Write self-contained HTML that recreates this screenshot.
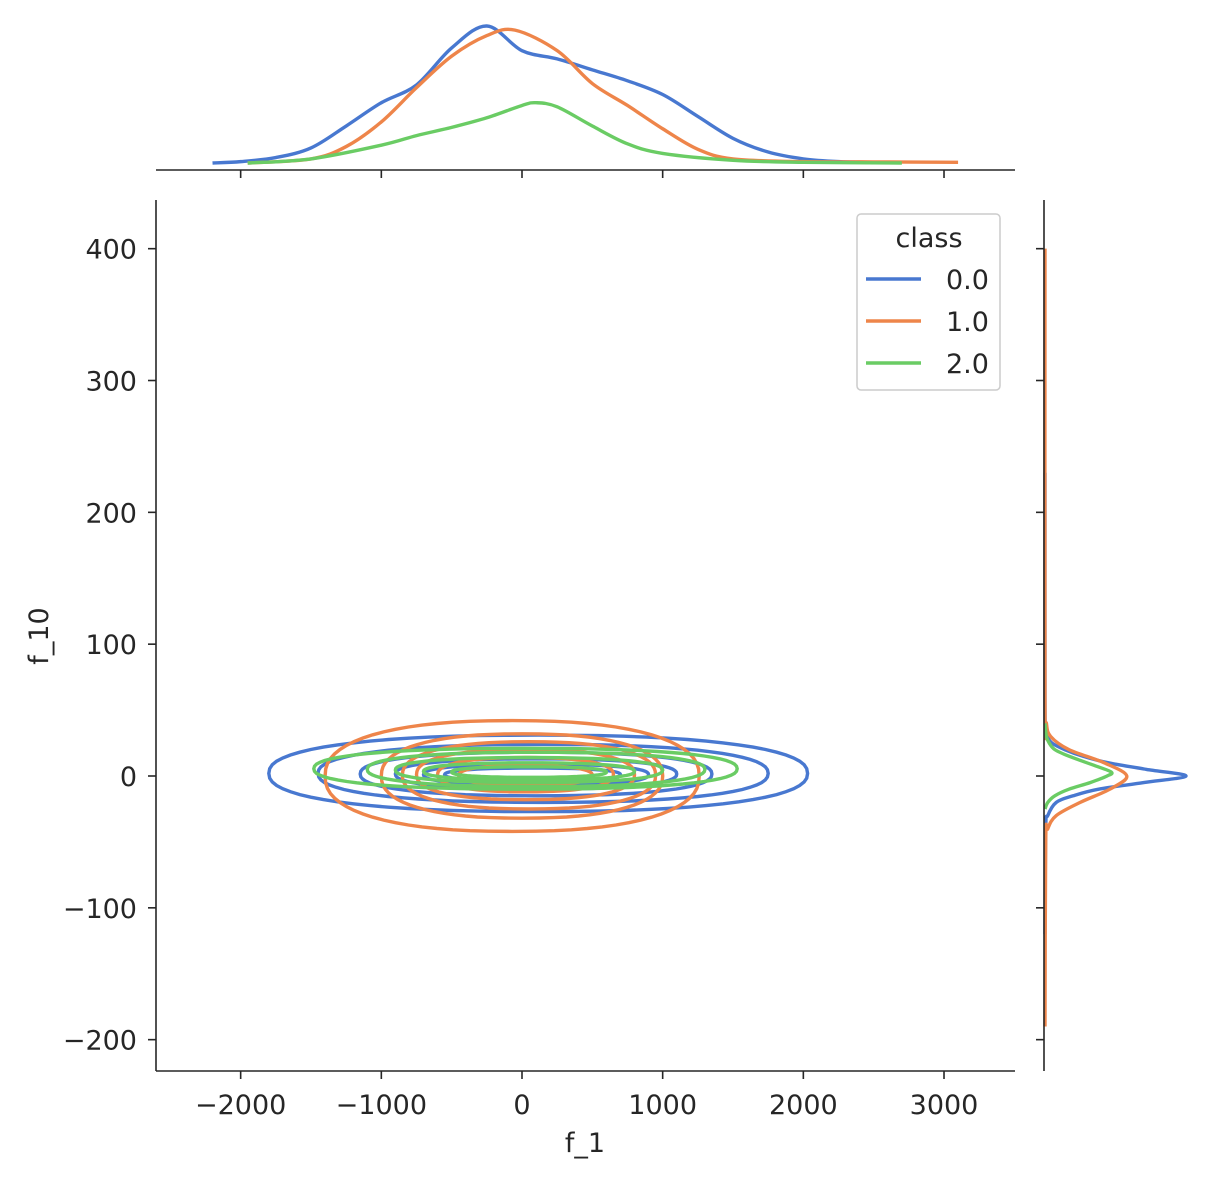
<!DOCTYPE html>
<html><head><meta charset="utf-8">
<style>
body{margin:0;background:#fff;}
svg{display:block;font-family:"DejaVu Sans","Liberation Sans",sans-serif;}
</style></head>
<body>
<svg id="chart" width="1212" height="1180" viewBox="0 0 1212 1180"></svg>
<script>
// ---- data ----
const classes = ["0.0","1.0","2.0"];
const colors = ["#4878d0","#ee854a","#6acc64"];
const xTicks = [-2000,-1000,0,1000,2000,3000];
const yTicks = [-200,-100,0,100,200,300,400];
// contour bounds per class: [xmin,xmax,ymin,ymax]
const contours0 = [[-1800,2030,-27,31],[-1450,1750,-20,24],[-1150,1350,-15,18],[-900,1100,-10,13],[-700,900,-7,9],[-550,700,-4,6]];
const contours1 = [[-1400,1260,-42,42],[-1000,1000,-32,32],[-850,950,-25,26],[-750,800,-18,20],[-600,650,-12,14],[-450,500,-7,8]];
const contours2 = [[-1480,1530,-10,21],[-1100,1300,-8,18],[-900,1000,-5,14],[-700,800,-3,10],[-500,600,-1,7]];
// top marginal densities (relative)
const topX0 = [-2200,-2000,-1750,-1500,-1250,-1000,-750,-500,-250,0,250,500,750,1000,1250,1500,1750,2000,2250,2500,2700];
const topD0 = [0,0.01,0.04,0.11,0.27,0.44,0.57,0.84,1.0,0.82,0.76,0.68,0.6,0.5,0.34,0.18,0.08,0.03,0.01,0.005,0.003];
const topX1 = [-1950,-1500,-1250,-1000,-750,-500,-250,-50,250,500,750,1000,1250,1500,2000,2500,3100];
const topD1 = [0,0.03,0.12,0.3,0.55,0.78,0.93,0.97,0.82,0.58,0.42,0.25,0.1,0.03,0.01,0.008,0.005];
const topX2 = [-1950,-1500,-1000,-750,-500,-250,0,100,250,500,750,1000,1500,2000,2700];
const topD2 = [0,0.03,0.13,0.2,0.26,0.33,0.42,0.44,0.41,0.27,0.14,0.07,0.02,0.005,0];
// right marginal densities (relative)
const rY0 = [-120,-40,-30,-20,-15,-10,-5,0,5,10,15,20,25,30,40,60,230];
const rD0 = [0,0.005,0.02,0.08,0.2,0.38,0.7,1.0,0.72,0.45,0.27,0.14,0.05,0.02,0.005,0,0];
const rY1 = [-190,-50,-40,-30,-20,-10,0,10,20,30,40,60,400];
const rD1 = [0,0.005,0.02,0.08,0.25,0.46,0.58,0.42,0.17,0.04,0.01,0,0];
const rY2 = [-25,-20,-15,-10,-5,0,3,8,15,20,25,30,40];
const rD2 = [0,0.02,0.07,0.17,0.32,0.44,0.47,0.35,0.17,0.07,0.03,0.01,0];

// ---- scales ----
const X = v => 522 + v*0.14067;
const Y = v => 776 - v*1.3183;
const NS="http://www.w3.org/2000/svg";
const svg=document.getElementById('chart');
function mk(tag,attrs,parent){const e=document.createElementNS(NS,tag);for(const k in attrs)e.setAttribute(k,attrs[k]);(parent||svg).appendChild(e);return e;}
function smooth(pts){let d=`M${pts[0][0]},${pts[0][1]}`;for(let i=0;i<pts.length-1;i++){const p0=pts[i-1]||pts[i],p1=pts[i],p2=pts[i+1],p3=pts[i+2]||p2;d+=` C${p1[0]+(p2[0]-p0[0])/6},${p1[1]+(p2[1]-p0[1])/6} ${p2[0]-(p3[0]-p1[0])/6},${p2[1]-(p3[1]-p1[1])/6} ${p2[0]},${p2[1]}`;}return d;}

// contours
const allC=[contours0,contours1,contours2];
allC.forEach((cs,ci)=>{cs.forEach((c,k)=>{
  const cx=(X(c[0])+X(c[1]))/2, cy=(Y(c[2])+Y(c[3]))/2, rx=(X(c[1])-X(c[0]))/2, ry=(Y(c[2])-Y(c[3]))/2;
  let d='';const n=72;
  for(let i=0;i<=n;i++){const t=i/n*2*Math.PI;const ct=Math.cos(t),st=Math.sin(t);
    const px=cx+rx*Math.sign(ct)*Math.pow(Math.abs(ct),0.85), py=cy+ry*Math.sign(st)*Math.pow(Math.abs(st),0.85);
    d+=(i?'L':'M')+px.toFixed(1)+','+py.toFixed(1);}
  const p=mk('path',{d:d+'Z',fill:'none',stroke:colors[ci],'stroke-width':3.4});
  
  
});});

// top marginal
const topXs=[topX0,topX1,topX2],topDs=[topD0,topD1,topD2];
topXs.forEach((xs,ci)=>{const pts=xs.map((x,i)=>[X(x),163-topDs[ci][i]*137]);
  const p=mk('path',{d:smooth(pts),fill:'none',stroke:colors[ci],'stroke-width':3.4});
  
  });
// right marginal
const rYs=[rY0,rY1,rY2],rDs=[rD0,rD1,rD2];
rYs.forEach((ys,ci)=>{const pts=ys.map((y,i)=>[1045+rDs[ci][i]*141,Y(y)]);
  const p=mk('path',{d:smooth(pts),fill:'none',stroke:colors[ci],'stroke-width':3.4});
  
  });

// axes
const ax={stroke:'#262626','stroke-width':1.6};
let a=mk('line',Object.assign({x1:156,y1:200,x2:156,y2:1071},ax));
a=mk('line',Object.assign({x1:156,y1:1071,x2:1015,y2:1071},ax));
a=mk('line',Object.assign({x1:156,y1:170,x2:1015,y2:170},ax));
a=mk('line',Object.assign({x1:1044,y1:200,x2:1044,y2:1071},ax));
const FS=27;
xTicks.forEach(v=>{const x=X(v);
  mk('line',Object.assign({x1:x,y1:1071,x2:x,y2:1079},ax));
  mk('line',Object.assign({x1:x,y1:170,x2:x,y2:178},ax));
  const t=mk('text',{x:x,y:1114,'text-anchor':'middle','font-size':FS,fill:'#262626'});
  t.textContent=v<0?'\u2212'+Math.abs(v):String(v);
  
  });
yTicks.forEach(v=>{const y=Y(v);
  mk('line',Object.assign({x1:148,y1:y,x2:156,y2:y},ax));
  mk('line',Object.assign({x1:1036,y1:y,x2:1044,y2:y},ax));
  const t=mk('text',{x:137,y:y+10,'text-anchor':'end','font-size':FS,fill:'#262626'});
  t.textContent=v<0?'\u2212'+Math.abs(v):String(v);
  
  });
let t=mk('text',{x:585,y:1152,'text-anchor':'middle','font-size':FS,fill:'#262626'});t.textContent='f_1';

t=mk('text',{x:48,y:636,'text-anchor':'middle','font-size':FS,fill:'#262626',transform:'rotate(-90 48 636)'});t.textContent='f_10';


// legend
const lg=mk('g',{});
mk('rect',{x:857,y:214,width:143,height:176,rx:4,fill:'#fff','fill-opacity':0.8,stroke:'#cccccc','stroke-width':1.5},lg);
t=mk('text',{x:929,y:247,'text-anchor':'middle','font-size':FS,fill:'#262626'},lg);t.textContent='class';

classes.forEach((c,i)=>{const y=279+i*42;
  const g=mk('g',{},lg);
  mk('line',{x1:866,y1:y,x2:921,y2:y,stroke:colors[i],'stroke-width':3.4},g);
  const tt=mk('text',{x:946,y:y+10,'font-size':FS,fill:'#262626'},g);tt.textContent=c;});
</script>
</body></html>
